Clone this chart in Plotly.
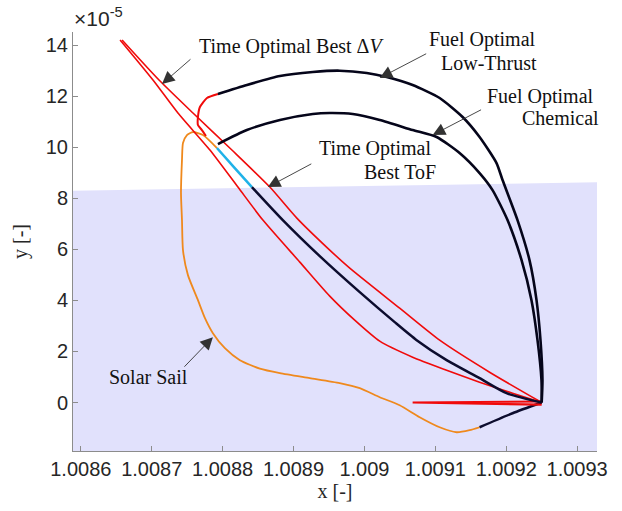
import plotly.graph_objects as go

# ---------------- axes ----------------
x_ticks = [1.0086, 1.0087, 1.0088, 1.0089, 1.009, 1.0091, 1.0092, 1.0093]
x_tick_labels = ["1.0086", "1.0087", "1.0088", "1.0089", "1.009", "1.0091", "1.0092", "1.0093"]
y_ticks = [0, 2, 4, 6, 8, 10, 12, 14]
y_tick_labels = ["0", "2", "4", "6", "8", "10", "12", "14"]
x_range = [1.008589, 1.009328]
y_range = [-1.9, 14.52]          # y in units of 1e-5

# ---------------- shaded region ----------------
shade_x = [1.008589, 1.008589, 1.009328, 1.009328]
shade_y = [-1.9, 8.30, 8.63, -1.9]

# ---------------- trajectories (y in 1e-5) ----------------
# Time Optimal Best dV (red, lower branch)
dv_x = [1.0086554, 1.0087018, 1.0087370, 1.0087821, 1.0088216, 1.0088568, 1.0089089,
        1.0089511, 1.0089863, 1.0090216, 1.0090680, 1.0091159, 1.0091624, 1.0092089, 1.00925]
dv_y = [14.208, 12.639, 11.345, 9.894, 8.443, 7.149, 5.502,
        4.169, 3.227, 2.404, 1.776, 1.267, 0.796, 0.365, 0.0]

# Time Optimal Best ToF (red, upper branch)
tof_x = [1.0086582, 1.0087103, 1.0087582, 1.0088131, 1.0088666, 1.0089047, 1.0089511,
         1.0089793, 1.0090497, 1.0091061, 1.0091765, 1.00925]
tof_y = [14.208, 12.639, 11.345, 9.894, 8.443, 7.227, 5.973,
         5.267, 3.698, 2.443, 1.188, 0.0]

# red wedge along y = 0
wedge_x = [1.00925, 1.0090680, 1.00925]
wedge_y = [0.04, 0.0, -0.08]

# Fuel Optimal Low-Thrust: red initial arc then black arc
lt_red_x = [1.0087765, 1.0087708, 1.0087652, 1.0087652, 1.0087680, 1.0087779, 1.0087934]
lt_red_y = [10.443, 10.678, 10.875, 11.188, 11.580, 11.933, 12.090]
lt_x = [1.0087934, 1.0088342, 1.0088808, 1.0089272, 1.0089652, 1.0090032, 1.0090314,
        1.0090680, 1.0091061, 1.0091385, 1.0091624, 1.0091863, 1.0091948, 1.0092159,
        1.0092328, 1.0092427, 1.0092483, 1.0092511, 1.00925]
lt_y = [12.090, 12.443, 12.796, 12.953, 13.004, 12.914, 12.757,
        12.443, 11.933, 11.188, 10.404, 9.384, 8.718, 7.149,
        5.580, 4.012, 2.443, 0.875, 0.0]

# Fuel Optimal Chemical
ch_x = [1.0087934, 1.0088342, 1.0088808, 1.0089272, 1.0089511, 1.0089835, 1.0090216,
        1.0090680, 1.0091018, 1.0091342, 1.0091624, 1.0091807, 1.0092018, 1.0092216,
        1.0092356, 1.0092441, 1.0092497, 1.00925]
ch_y = [10.129, 10.678, 11.071, 11.306, 11.345, 11.306, 11.071,
        10.678, 10.404, 9.777, 8.992, 8.325, 7.149, 5.580,
        4.012, 2.443, 0.875, 0.0]

# cyan arc followed by dark navy arc
cy_x = [1.0087920, 1.0088159, 1.0088413]
cy_y = [9.973, 9.227, 8.443]
nv_x = [1.0088413, 1.0088849, 1.0089370, 1.0089934, 1.0090427, 1.0090737, 1.0091159,
        1.0091624, 1.0092004, 1.00925]
nv_y = [8.443, 7.149, 5.737, 4.325, 3.149, 2.443, 1.659, 0.953, 0.365, 0.0]

# Solar Sail (orange) then dark final segment
ss_x = [1.0087920, 1.0087723, 1.0087582, 1.0087497, 1.0087441, 1.0087427, 1.0087413,
        1.0087427, 1.0087441, 1.0087511, 1.0087652, 1.0087751, 1.0087863, 1.0088032,
        1.0088244, 1.0088525, 1.0088808, 1.0089230, 1.0089652, 1.0089934, 1.0090216,
        1.0090497, 1.0090779, 1.0091061, 1.0091300, 1.0091483, 1.0091624]
ss_y = [9.973, 10.482, 10.600, 10.482, 10.168, 9.502, 8.208,
        7.149, 5.973, 4.992, 4.012, 3.306, 2.718, 2.129,
        1.659, 1.325, 1.149, 0.953, 0.757, 0.561, 0.208,
        -0.106, -0.576, -0.969, -1.165, -1.086, -0.969]
ss_end_x = [1.0091624, 1.0092089, 1.00925]
ss_end_y = [-0.969, -0.42, 0.0]

# ---------------- labels & arrows ----------------
labels = ["Time Optimal Best Δ<i>V</i>", "Fuel Optimal", "Low-Thrust",
          "Fuel Optimal", "Chemical", "Time Optimal", "Best ToF", "Solar Sail"]
label_x = [1.0087638, 1.0092441, 1.0092469, 1.0093272, 1.0093272, 1.0090962, 1.0091032, 1.0086370]
label_y = [13.945, 14.208, 13.306, 11.973, 11.149, 9.973, 9.031, 0.992]
label_anchor = ["left", "right", "right", "right", "right", "right", "right", "left"]
label_shift = [0, 0, 0, 0, 5, 0, 0, 0]

arrow_tip_x = [1.0087145, 1.0090216, 1.0090962, 1.0088638, 1.0087863]
arrow_tip_y = [12.482, 12.718, 10.482, 8.443, 2.561]
arrow_tail_x = [1.0087568, 1.0090892, 1.0091666, 1.0089272, 1.0087441]
arrow_tail_y = [13.502, 13.698, 11.502, 9.384, 1.345]

RED = "#f00a0a"
BLACK = "#05051a"
NAVY = "#0c0c2e"
CYAN = "#1fb2e8"
ORANGE = "#ef891d"
SHADE = "rgb(225,225,252)"

fig = go.Figure()
fig.add_trace(go.Scatter(x=shade_x, y=shade_y, fill="toself", fillcolor=SHADE,
                         mode="none", hoverinfo="skip"))


def line(x, y, color, w):
    fig.add_trace(go.Scatter(x=x, y=y, mode="lines",
                             line=dict(color=color, width=w, shape="spline", smoothing=0.6),
                             hoverinfo="skip"))


line(ss_x, ss_y, ORANGE, 1.8)
line(ss_end_x, ss_end_y, NAVY, 2.5)
line(dv_x, dv_y, RED, 1.6)
line(tof_x, tof_y, RED, 1.6)
fig.add_trace(go.Scatter(x=wedge_x, y=wedge_y, mode="lines", line=dict(color=RED, width=2.2),
                         hoverinfo="skip"))
line(cy_x, cy_y, CYAN, 2.5)
line(nv_x, nv_y, NAVY, 2.5)
line(lt_red_x, lt_red_y, RED, 2.0)
line(lt_x, lt_y, BLACK, 2.6)
line(ch_x, ch_y, BLACK, 2.6)

annots = []
for t, x, y, a, s in zip(labels, label_x, label_y, label_anchor, label_shift):
    annots.append(dict(x=x, y=y, xref="x", yref="y", text=t, showarrow=False,
                       xanchor=a, yanchor="middle", align=a, xshift=s,
                       font=dict(family="Liberation Serif", size=20, color="#111")))
for tx, ty, sx, sy in zip(arrow_tip_x, arrow_tip_y, arrow_tail_x, arrow_tail_y):
    annots.append(dict(x=tx, y=ty, xref="x", yref="y", ax=sx, ay=sy, axref="x", ayref="y",
                       text="", showarrow=True, arrowhead=2, arrowsize=2.8, arrowwidth=0.9,
                       arrowcolor="#333", standoff=0, startstandoff=0))
annots.append(dict(x=0, y=1, xref="paper", yref="paper", xanchor="left", yanchor="bottom",
                   text="×10<sup>-5</sup>", showarrow=False, xshift=-1, yshift=0,
                   font=dict(family="Liberation Sans", size=21, color="#262626")))

axis_common = dict(showline=True, linecolor="rgb(140,140,140)", linewidth=1, mirror=False,
                   ticks="inside", ticklen=5, tickcolor="rgb(140,140,140)", showgrid=False,
                   zeroline=False, tickfont=dict(family="Liberation Sans", size=20, color="#262626"))

fig.update_layout(
    width=622, height=511, autosize=False,
    margin=dict(l=72.7, r=24.7, t=32, b=60.3, pad=0),
    paper_bgcolor="white", plot_bgcolor="white", showlegend=False,
    xaxis=dict(range=x_range, tickvals=x_ticks, ticktext=x_tick_labels,
               title=dict(text="x [-]", font=dict(family="Liberation Serif", size=20, color="#262626"), standoff=2),
               **axis_common),
    yaxis=dict(range=y_range, tickvals=y_ticks, ticktext=y_tick_labels,
               title=dict(text="y [-]", font=dict(family="Liberation Serif", size=20, color="#262626"), standoff=12),
               **axis_common),
    annotations=annots,
)

fig.write_html("out.html")
